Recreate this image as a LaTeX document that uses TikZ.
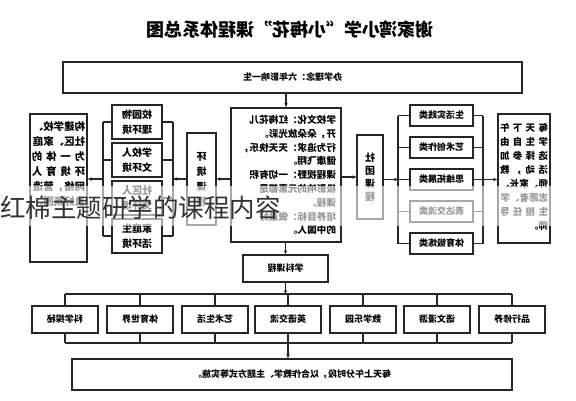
\documentclass[tikz,border=0pt]{standalone}
\usepackage{fontspec}
\usepackage{graphicx}
\setmainfont{Noto Sans CJK SC}
\usetikzlibrary{arrows.meta}
\newcommand{\mir}[1]{\reflectbox{#1}}
\newcommand{\spl}[2]{\leavevmode\hbox to #1{#2}}
\begin{document}
\begin{tikzpicture}[x=1pt,y=-1pt,
  box/.style={draw=black!85, line width=1.1pt, fill=white, inner sep=0pt, align=center},
  bigbox/.style={box, line width=1.6pt},
  ln/.style={draw=black!85, line width=1.1pt},
  arr/.style={ln, -{Stealth[length=4pt,width=3.5pt]}}]
\useasboundingbox (0,0) rectangle (576,400);
% title
\node[inner sep=0pt] (title) at (290,30) {\mir{\fontsize{18}{18}\selectfont\bfseries 谢家湾小学“小梅花”课程体系总图}};
% top box
\node[bigbox, minimum width=459pt, minimum height=31pt] (top) at (292.5,77.5) {\mir{\fontsize{9}{9}\selectfont\bfseries 办学理念：六年影响一生}};
% central box
\node[box, line width=2pt, minimum width=110pt, minimum height=134pt] (cen) at (286,175) {\mir{\parbox{100pt}{\fontsize{9.6}{13.8}\selectfont\bfseries 学校文化：红梅花儿\\开，朵朵放光彩。\\行为追求：天天快乐，\\健康飞翔。\\课程视野：一切有积\\极影响的元素都是\\课程。\\培养目标：做最好\\的中国人。}}};
% subject course
\node[bigbox, minimum width=85pt, minimum height=27pt] (xk) at (285.5,268.5) {\mir{\fontsize{9}{9}\selectfont\bfseries 学科课程}};
% seven subject boxes
\foreach \i/\cx/\t in {1/65/科学探秘,2/140/体育世界,3/215/艺术生活,4/288/英语交流,5/363/数学乐园,6/437/语文漫游,7/512/品行修养}{
  \node[bigbox, minimum width=66pt, minimum height=27pt] (s\i) at (\cx,319.5) {\mir{\fontsize{9}{9}\selectfont\bfseries \t}};
}
% bottom box
\node[bigbox, minimum width=440pt, minimum height=31pt] (bot) at (292,374.5) {\mir{\fontsize{9}{9}\selectfont\bfseries 每天上午分时段，以合作教学、主题方式等实施。}};
% buses
\coordinate (b1l) at (65,294);
\coordinate (b1r) at (512,294);
\coordinate (b2l) at (65,343);
\coordinate (b2r) at (512,343);
\draw[ln] (b1l) -- (b1r);
\draw[ln] (b2l) -- (b2r);
\foreach \i in {1,...,7}{
  \draw[ln] (s\i.north |- b1l) -- (s\i.north);
  \draw[ln] (s\i.south) -- (s\i.south |- b2l);
}
\draw[arr] (cen.north |- top.south) -- (cen.north);
\draw[arr] (cen.south -| xk.north) -- (xk.north);
\draw[arr] (xk.south) -- (xk.south |- b1l);
\coordinate (b2m) at (288,343);
\draw[arr] (b2m) -- (b2m |- bot.north);
% left side
\node[bigbox, minimum width=57pt, minimum height=148pt] (lo) at (58.5,188) {};
\node[inner sep=0pt, anchor=north] (lot) at (58.5,121) {\mir{\parbox{53pt}{\fontsize{10.4}{15}\selectfont\bfseries 构建学校、\\社区、家庭\\\spl{53pt}{为\hfill 一\hfill 体\hfill 的}\\\spl{53pt}{环\hfill 境\hfill 育\hfill 人}\\网络，营造\\良好氛围。}}};
\foreach \i/\cy/\t in {1/122/校园物\\理环境,2/160/学校人\\文环境,3/198/社区人\\文环境,4/236/家庭生\\活环境}{
  \node[box, minimum width=50pt, minimum height=34pt] (ls\i) at (137,\cy) {\mir{\parbox{32pt}{\centering\fontsize{10}{15}\selectfont\bfseries \t}}};
}
\node[box, minimum width=29pt, minimum height=92pt] (hj) at (201.5,179) {\mir{\parbox{12pt}{\centering\fontsize{10}{15}\selectfont\bfseries 环\\境\\课\\程}}};
\coordinate (lbR) at (173,179);
\coordinate (lbL) at (103,179);
\draw[ln] (ls1.east -| lbR) -- (ls4.east -| lbR);
\draw[ln] (ls1.west -| lbL) -- (ls4.west -| lbL);
\foreach \i in {1,...,4}{
  \draw[ln] (ls\i.east) -- (ls\i.east -| lbR);
  \draw[ln] (ls\i.west) -- (ls\i.west -| lbL);
}
\draw[arr] (cen.west |- hj.east) -- (hj.east);
\draw[arr] (hj.west) -- (lbR);
\draw[arr] (lbL) -- (lbL -| lo.east);
% right side
\node[box, minimum width=26pt, minimum height=84pt] (st) at (370,177) {\mir{\parbox{12pt}{\centering\fontsize{10}{13}\selectfont\bfseries 社\\团\\课\\程}}};
\foreach \i/\cy/\t in {1/115.5/生活实践类,2/147.5/艺术创作类,3/179.5/思维拓展类,4/211.5/表达交流类,5/243.5/体育锻炼类}{
  \node[bigbox, minimum width=63pt, minimum height=21pt] (rs\i) at (441.5,\cy) {\mir{\fontsize{9}{9}\selectfont\bfseries \t}};
}
\node[bigbox, minimum width=52pt, minimum height=129pt] (ro) at (524,178.5) {};
\node[inner sep=0pt, anchor=north] (rot) at (524,123) {\mir{\parbox{48pt}{\fontsize{9.5}{14}\selectfont\bfseries \spl{48pt}{每\hfill 天\hfill 下\hfill 午}\\\spl{48pt}{学\hfill 生\hfill 自\hfill 由}\\\spl{48pt}{选\hfill 择\hfill 参\hfill 加}\\\spl{48pt}{活\hfill 动\hfill ，\hfill 教}\\\spl{48pt}{师\hfill 、\hfill 家\hfill 长\hfill 、}\\志愿者、学\\\spl{48pt}{生\hfill 担\hfill 任\hfill 导}\\师。}}};
\coordinate (rbL) at (398,179.5);
\coordinate (rbR) at (483,179.5);
\draw[ln] (rs1.west -| rbL) -- (rs5.west -| rbL);
\draw[ln] (rs1.east -| rbR) -- (rs5.east -| rbR);
\foreach \i in {1,...,5}{
  \draw[ln] (rs\i.west -| rbL) -- (rs\i.west);
  \draw[ln] (rs\i.east) -- (rs\i.east -| rbR);
}
\draw[arr] (cen.east |- st.west) -- (st.west);
\draw[arr] (st.east |- rbL) -- (rbL);
\draw[arr] (rbR) -- (rbR -| ro.west);
% overlay band and caption
\fill[white, opacity=0.6] (0,186) rectangle (576,226);
\node[inner sep=0pt, anchor=west, text=black!80] (wm) at (0,208) {\fontsize{25.5}{25.5}\selectfont 红棉主题研学的课程内容};
\end{tikzpicture}
\end{document}
